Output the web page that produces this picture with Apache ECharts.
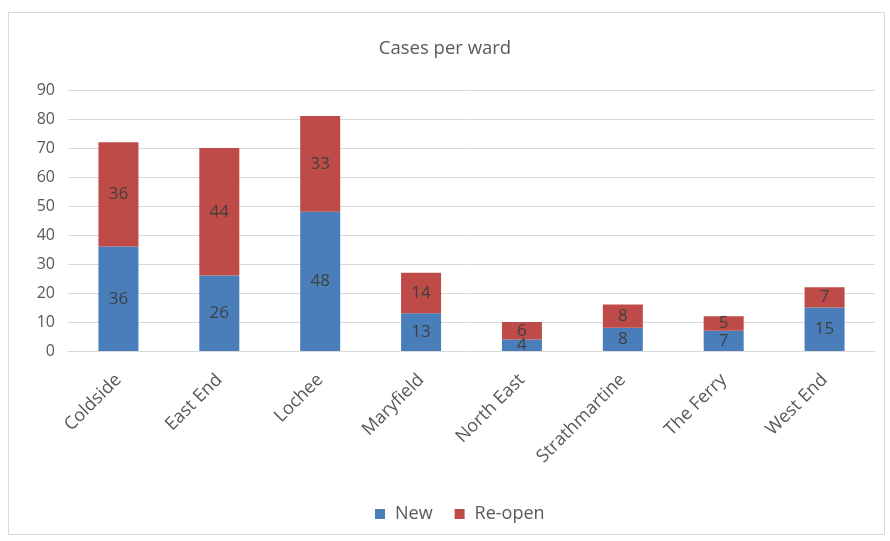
<!DOCTYPE html>
<html>
<head>
<meta charset="utf-8">
<script src="https://cdn.jsdelivr.net/npm/echarts@6/dist/echarts.min.js"></script>
<style>
  html, body { margin: 0; padding: 0; background: #fff; }
  #frame { position: absolute; left: 8px; top: 12px; width: 877px; height: 523px; border: 1px solid #d9d9d9; box-sizing: border-box; }
  #chart { width: 890px; height: 541px; }
</style>
</head>
<body>
<div id="frame"></div>
<div id="chart"></div>
<script>
// Cases per ward, split into new and re-opened cases
const wards = ['Coldside', 'East End', 'Lochee', 'Maryfield', 'North East', 'Strathmartine', 'The Ferry', 'West End'];
const newCases = [36, 26, 48, 13, 4, 8, 7, 15];
const reopenCases = [36, 44, 33, 14, 6, 8, 5, 7];
const yTicks = { min: 0, max: 90, step: 10 };

const font = '"Open Sans", Lato, sans-serif';
const textGrey = '#595959';

const chart = echarts.init(document.getElementById('chart'), null, { renderer: 'canvas' });

const labelStyle = {
  show: true,
  position: 'inside',
  color: '#404040',
  fontSize: 17,
  fontFamily: font
};

chart.setOption({
  animation: false,
  title: {
    text: 'Cases per ward',
    left: 'center',
    top: 34,
    textStyle: { color: textGrey, fontSize: 18.5, fontWeight: 'normal', fontFamily: font }
  },
  legend: {
    top: 500,
    left: 370,
    itemWidth: 10,
    itemHeight: 10,
    itemGap: 22,
    icon: 'rect',
    textStyle: { color: textGrey, fontSize: 18, fontFamily: font, padding: [0, 0, 0, 5] },
    data: ['New', 'Re-open']
  },
  grid: { left: 68, right: 15, top: 90, bottom: 190 },
  xAxis: {
    type: 'category',
    data: wards,
    axisLine: { lineStyle: { color: '#d9d9d9' } },
    axisTick: { show: false },
    axisLabel: { color: textGrey, fontSize: 18, fontFamily: font, rotate: 45, margin: 26, interval: 0 }
  },
  yAxis: {
    type: 'value',
    min: yTicks.min,
    max: yTicks.max,
    interval: yTicks.step,
    axisLine: { show: false },
    axisTick: { show: false },
    axisLabel: { color: textGrey, fontSize: 16, fontFamily: font, margin: 13 },
    splitLine: { lineStyle: { color: '#d9d9d9' } }
  },
  series: [
    {
      name: 'New',
      type: 'bar',
      stack: 'cases',
      barWidth: 40,
      data: newCases,
      itemStyle: { color: '#4a7ebb' },
      label: labelStyle
    },
    {
      name: 'Re-open',
      type: 'bar',
      stack: 'cases',
      barWidth: 40,
      data: reopenCases,
      itemStyle: { color: '#be4b48' },
      label: labelStyle
    }
  ]
});
</script>
</body>
</html>
